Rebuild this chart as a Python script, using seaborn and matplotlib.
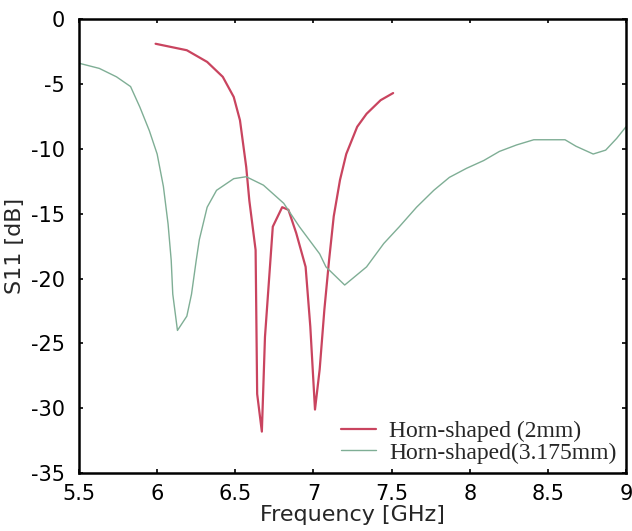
import numpy as np
import pandas as pd
import seaborn as sns
import matplotlib
matplotlib.use("Agg")
import matplotlib.pyplot as plt

# curva 2mm
freq_2mm = [5.99, 6.19, 6.32, 6.42, 6.49, 6.53, 6.55, 6.57, 6.59, 6.63, 6.64, 6.67,
            6.69, 6.72, 6.74, 6.80, 6.84, 6.89, 6.95, 6.98, 7.01, 7.04, 7.07, 7.10,
            7.13, 7.17, 7.21, 7.28, 7.34, 7.43, 7.51]
s11_2mm = [-1.9, -2.4, -3.3, -4.45, -6.0, -7.8, -9.6, -11.4, -14.0, -17.8, -28.9, -31.8,
           -24.5, -19.4, -16.0, -14.5, -14.7, -16.5, -19.1, -23.7, -30.1, -27.0, -22.4, -18.6,
           -15.2, -12.4, -10.4, -8.3, -7.3, -6.25, -5.7]

# curva 3.175mm
freq_3mm = [5.50, 5.63, 5.74, 5.83, 5.89, 5.95, 6.00, 6.04, 6.07, 6.09, 6.10, 6.13,
            6.19, 6.22, 6.25, 6.27, 6.32, 6.38, 6.49, 6.57, 6.68, 6.81, 6.91, 7.04,
            7.08, 7.20, 7.34, 7.45, 7.55, 7.66, 7.77, 7.87, 7.98, 8.09, 8.19, 8.30,
            8.41, 8.51, 8.61, 8.68, 8.79, 8.87, 8.94, 9.00]
s11_3mm = [-3.4, -3.8, -4.45, -5.2, -6.8, -8.6, -10.4, -12.9, -15.8, -18.6, -21.2, -24.0,
           -22.9, -21.2, -18.6, -17.0, -14.5, -13.2, -12.3, -12.15, -12.8, -14.2, -16.0, -18.1,
           -19.1, -20.5, -19.1, -17.3, -16.0, -14.5, -13.2, -12.2, -11.5, -10.9, -10.2, -9.7,
           -9.3, -9.3, -9.3, -9.8, -10.4, -10.1, -9.2, -8.3]

etiquetas = ['Horn-shaped (2mm)', 'Horn-shaped(3.175mm)']
colores = ['#c9445f', '#7fae95']
xticks = ['5.5', '6', '6.5', '7', '7.5', '8', '8.5', '9']

df = pd.concat([
    pd.DataFrame({'freq': freq_2mm, 's11': s11_2mm, 'serie': etiquetas[0]}),
    pd.DataFrame({'freq': freq_3mm, 's11': s11_3mm, 'serie': etiquetas[1]}),
])

sns.set_style("ticks")
plt.rcParams['font.family'] = ['DejaVu Sans']
plt.rcParams['axes.unicode_minus'] = False

fig = plt.figure(figsize=(6.32, 5.31), dpi=100)
ax = fig.add_axes([0.125, 0.109, 0.8655, 0.855])

sns.lineplot(data=df, x='freq', y='s11', hue='serie', palette=colores,
             ax=ax, sort=False, estimator=None)
for ln, lw in zip(ax.get_lines(), [1.6, 1.0]):
    ln.set_linewidth(lw)

ax.set_xlim(5.5, 9)
ax.set_ylim(-35, 0)
ax.set_xticks(np.arange(5.5, 9.01, 0.5))
ax.set_xticklabels(xticks)
ax.set_yticks(np.arange(-35, 0.1, 5))
ax.tick_params(direction='in', length=3, width=1.2, labelsize=15, top=True, right=True,
               colors='black')
ax.tick_params(axis='x', pad=8)
ax.tick_params(axis='y', pad=10)
for sp in ax.spines.values():
    sp.set_linewidth(1.8)
    sp.set_color('black')

ax.set_xlabel('Frequency [GHz]', fontsize=16)
ax.set_ylabel('S11 [dB]', fontsize=16)
ax.xaxis.set_label_coords(0.5, -0.07)
ax.yaxis.set_label_coords(-0.098, 0.5)

leg = ax.legend(loc='lower right', frameon=False, prop={'family': 'Liberation Serif', 'size': 17},
                handlelength=1.5, handletextpad=0.55, labelspacing=0.0, borderpad=0,
                borderaxespad=0.4)
for h, lw in zip(leg.get_lines(), [1.6, 1.0]):
    h.set_linewidth(lw)

fig.savefig('out.png', dpi=100)
